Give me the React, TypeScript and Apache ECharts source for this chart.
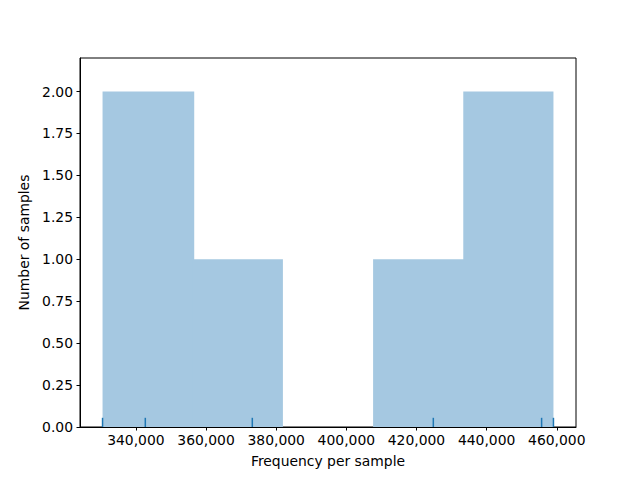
import React, { useEffect, useRef } from "react";
import * as echarts from "echarts";

const binEdges = [330486, 356200, 381914, 407629, 433343, 459057];
const binCounts = [2, 1, 0, 1, 2];
const rugValues = [330486, 342677, 373187, 424800, 455680, 459057];
const xTicks = [340000, 360000, 380000, 400000, 420000, 440000, 460000];
const yTicks = [0, 0.25, 0.5, 0.75, 1, 1.25, 1.5, 1.75, 2];
const xMin = 324057;
const xMax = 465486;
const yMax = 2.2;

const font = "DejaVu Sans";

export default function App() {
  const ref = useRef<HTMLDivElement>(null);
  useEffect(() => {
    if (!ref.current) return;
    const chart = echarts.init(ref.current, undefined, { renderer: "svg" });
    const histData = binCounts.map((c, i) => [binEdges[i], binEdges[i + 1], c]);
    const rugData = rugValues.map((v) => [v, 0]);
    chart.setOption({
      animation: false,
      backgroundColor: "#fff",
      grid: {
        left: 80,
        top: 58,
        right: 64,
        bottom: 53,
        show: true,
        borderColor: "#000",
        borderWidth: 1,
        backgroundColor: "transparent",
      },
      xAxis: {
        type: "value",
        min: xMin,
        max: xMax,
        name: "Frequency per sample",
        nameLocation: "middle",
        nameGap: 27,
        nameTextStyle: { fontFamily: font, fontSize: 13.9, color: "#000" },
        axisLine: { show: true, onZero: false, lineStyle: { color: "#000", width: 1 } },
        axisTick: {
          show: true,
          length: 3.5,
          customValues: xTicks,
          lineStyle: { color: "#000", width: 1 },
        },
        axisLabel: {
          customValues: xTicks,
          margin: 6,
          fontFamily: font,
          fontSize: 13.9,
          color: "#000",
          formatter: (v: number) => v.toLocaleString("en-US"),
        },
        splitLine: { show: false },
      },
      yAxis: {
        type: "value",
        min: 0,
        max: yMax,
        name: "Number of samples",
        nameLocation: "middle",
        nameGap: 46,
        nameTextStyle: { fontFamily: font, fontSize: 13.9, color: "#000" },
        axisLine: { show: true, lineStyle: { color: "#000", width: 1 } },
        axisTick: {
          show: true,
          length: 3.5,
          customValues: yTicks,
          lineStyle: { color: "#000", width: 1 },
        },
        axisLabel: {
          customValues: yTicks,
          margin: 7,
          fontFamily: font,
          fontSize: 13.9,
          color: "#000",
          formatter: (v: number) => v.toFixed(2),
        },
        splitLine: { show: false },
      },
      series: [
        {
          type: "custom",
          data: histData,
          encode: { x: [0, 1], y: 2 },
          renderItem: (params: any, api: any) => {
            if (api.value(2) <= 0) return null;
            const p0 = api.coord([api.value(0), 0]);
            const p1 = api.coord([api.value(1), api.value(2)]);
            const i = params.dataIndex;
            const overlap = i < binCounts.length - 1 && binCounts[i + 1] > 0 ? 1.5 : 0;
            return {
              type: "rect",
              shape: {
                x: p0[0],
                y: p1[1],
                width: p1[0] - p0[0] + overlap,
                height: p0[1] - p1[1],
              },
              style: { fill: "#a5c8e1" },
            };
          },
          z: 1,
        },
        {
          type: "custom",
          data: rugData,
          encode: { x: 0, y: 1 },
          renderItem: (params: any, api: any) => {
            const p = api.coord([api.value(0), 0]);
            return {
              type: "line",
              shape: { x1: p[0], y1: p[1], x2: p[0], y2: p[1] - 9.2 },
              style: { stroke: "#1f77b4", lineWidth: 1.5 },
            };
          },
          z: 2,
        },
      ],
    });
    return () => chart.dispose();
  }, []);
  return <div ref={ref} style={{ width: 640, height: 480, position: "absolute", left: 0, top: 0 }} />;
}
